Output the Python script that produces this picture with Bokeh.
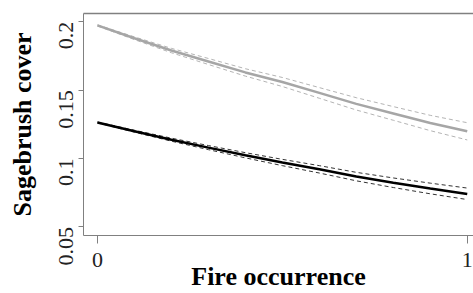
import math
from bokeh.plotting import figure
from bokeh.models import Range1d, FixedTicker, LinearAxis
from bokeh.embed import file_html
from bokeh.resources import INLINE

# ---- data ----
fire = [0.0, 0.1, 0.2, 0.3, 0.4, 0.5, 0.6, 0.7, 0.8, 0.9, 1.0]

gray_fit = [0.1974, 0.1880, 0.1790, 0.1710, 0.1630, 0.1560, 0.1480, 0.1400, 0.1330, 0.1260, 0.1199]
gray_upper = [0.1978, 0.1890, 0.1806, 0.1732, 0.1657, 0.1593, 0.1519, 0.1445, 0.1380, 0.1316, 0.1262]
gray_lower = [0.1970, 0.1870, 0.1774, 0.1688, 0.1603, 0.1527, 0.1441, 0.1355, 0.1280, 0.1204, 0.1136]

black_fit = [0.1264, 0.1200, 0.1138, 0.1080, 0.1024, 0.0971, 0.0921, 0.0868, 0.0823, 0.0781, 0.0741]
black_upper = [0.1267, 0.1207, 0.1149, 0.1095, 0.1043, 0.0994, 0.0948, 0.0899, 0.0858, 0.0820, 0.0784]
black_lower = [0.1261, 0.1193, 0.1127, 0.1065, 0.1005, 0.0948, 0.0894, 0.0837, 0.0788, 0.0742, 0.0700]

x_ticks = [0, 1]
y_ticks = [0.05, 0.1, 0.15, 0.2]
y_tick_labels = ["0.05", "0.1", "0.15", "0.2"]

x_title = "Fire occurrence"
y_title = "Sagebrush cover"

FONT = "Liberation Serif"
BOX = "#808080"

p = figure(width=473, height=293, output_backend="svg", toolbar_location=None,
           x_range=Range1d(-0.0377, 1.0169), y_range=Range1d(0.0437, 0.2061),
           x_axis_location=None, y_axis_location=None,
           min_border_left=83, min_border_right=0, min_border_top=13, min_border_bottom=54)
p.outline_line_color = None
p.grid.visible = False
p.background_fill_color = "white"
p.border_fill_color = "white"

# left axis
ya = LinearAxis(ticker=FixedTicker(ticks=y_ticks),
                major_label_overrides={t: s for t, s in zip(y_ticks, y_tick_labels)})
ya.axis_label = y_title
ya.axis_label_text_font = FONT
ya.axis_label_text_font_style = "bold"
ya.axis_label_text_font_size = "26px"
ya.axis_label_text_color = "black"
ya.axis_label_standoff = 13
ya.major_label_text_font = FONT
ya.major_label_text_font_size = "22px"
ya.major_label_text_color = "#222222"
ya.major_label_orientation = math.pi / 2
ya.major_label_standoff = 12
ya.major_tick_out = 5
ya.major_tick_in = 0
ya.minor_tick_out = 0
ya.minor_tick_in = 0
ya.axis_line_color = BOX
ya.major_tick_line_color = BOX
p.add_layout(ya, "left")

# bottom axis
xa = LinearAxis(ticker=FixedTicker(ticks=x_ticks))
xa.axis_label = x_title
xa.axis_label_text_font = FONT
xa.axis_label_text_font_style = "bold"
xa.axis_label_text_font_size = "26px"
xa.axis_label_text_color = "black"
xa.axis_label_standoff = -8
xa.major_label_text_font = FONT
xa.major_label_text_font_size = "22px"
xa.major_label_text_color = "#222222"
xa.major_label_standoff = 9
xa.major_tick_out = 8
xa.major_tick_in = 0
xa.minor_tick_out = 0
xa.minor_tick_in = 0
xa.axis_line_color = BOX
xa.major_tick_line_color = BOX
p.add_layout(xa, "below")

# top border (box)
ta = LinearAxis(ticker=FixedTicker(ticks=[]), major_label_text_font_size="0px",
                major_tick_out=0, major_tick_in=0, minor_tick_out=0, minor_tick_in=0,
                axis_line_color=BOX, axis_line_width=1.5)
p.add_layout(ta, "above")

# curves
p.line(fire, gray_upper, line_color="#b4b4b4", line_width=1, line_dash="4 3")
p.line(fire, gray_lower, line_color="#b4b4b4", line_width=1, line_dash="4 3")
p.line(fire, gray_fit, line_color="#a6a6a6", line_width=2.5)

p.line(fire, black_upper, line_color="#333333", line_width=1, line_dash="4 3")
p.line(fire, black_lower, line_color="#333333", line_width=1, line_dash="4 3")
p.line(fire, black_fit, line_color="black", line_width=2.5)

open("out.html", "w").write(file_html(p, INLINE))
